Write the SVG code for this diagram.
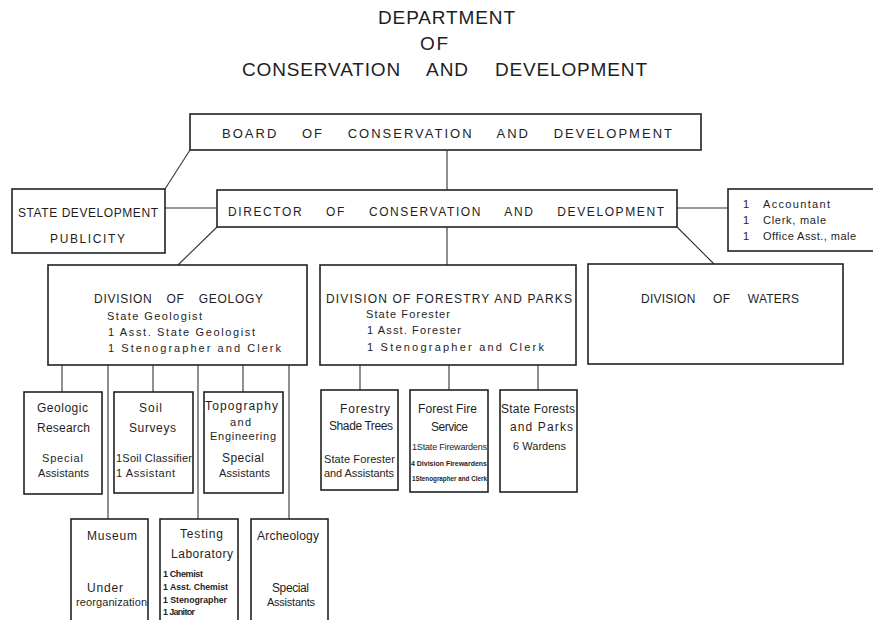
<svg xmlns="http://www.w3.org/2000/svg" width="873" height="620" viewBox="0 0 873 620">
<style>
  .bx{fill:#fff;stroke:#222;stroke-width:1.6}
  .cn{stroke:#333;stroke-width:1.1;fill:none}
  text{font-family:"Liberation Sans","DejaVu Sans",Arial,sans-serif;fill:#1e1e1e}
  .t1{font-size:19px}
  .h{font-size:13px}
  .hs{font-size:12px}
  .s{font-size:11px}
  .m{font-size:12px}
  .xs{font-size:9px}
  .xxs{font-size:7px;font-weight:bold}
  .c{text-anchor:middle}
</style>
<rect width="873" height="620" fill="#fff"/>
<g id="title">
  <text class="t1" x="378" y="24" textLength="137" lengthAdjust="spacing">DEPARTMENT</text>
  <text class="t1" x="420" y="50" textLength="28" lengthAdjust="spacing">OF</text>
  <text class="t1" x="242" y="76" textLength="405" lengthAdjust="spacing" style="word-spacing:20px">CONSERVATION AND DEVELOPMENT</text>
</g>
<g id="connectors">
  <line class="cn" x1="190" y1="150" x2="165" y2="189"/>
  <line class="cn" x1="447" y1="150" x2="447" y2="190"/>
  <line class="cn" x1="165" y1="208" x2="217" y2="208"/>
  <line class="cn" x1="677" y1="208" x2="728" y2="208"/>
  <line class="cn" x1="217" y1="227" x2="178" y2="265"/>
  <line class="cn" x1="447" y1="227" x2="447" y2="265"/>
  <line class="cn" x1="677" y1="227" x2="714" y2="264"/>
  <line class="cn" x1="62" y1="365" x2="62" y2="392"/>
  <line class="cn" x1="108" y1="365" x2="108" y2="519"/>
  <line class="cn" x1="153" y1="365" x2="153" y2="392"/>
  <line class="cn" x1="198" y1="365" x2="198" y2="519"/>
  <line class="cn" x1="243" y1="365" x2="243" y2="392"/>
  <line class="cn" x1="289" y1="365" x2="289" y2="519"/>
  <line class="cn" x1="360" y1="365" x2="360" y2="390"/>
  <line class="cn" x1="449" y1="365" x2="449" y2="390"/>
  <line class="cn" x1="538" y1="365" x2="538" y2="390"/>
</g>
<g id="board">
  <rect class="bx" x="190" y="114" width="511" height="36"/>
  <text class="h" x="222" y="138" textLength="450" lengthAdjust="spacing" style="word-spacing:18px">BOARD OF CONSERVATION AND DEVELOPMENT</text>
</g>
<g id="state-development">
  <rect class="bx" x="12" y="189" width="153" height="64"/>
  <text class="hs" x="18" y="217" textLength="140" lengthAdjust="spacing">STATE DEVELOPMENT</text>
  <text class="hs" x="50" y="243" textLength="75" lengthAdjust="spacing">PUBLICITY</text>
</g>
<g id="director">
  <rect class="bx" x="217" y="190" width="460" height="37"/>
  <text class="hs" x="228" y="216" textLength="436" lengthAdjust="spacing" style="word-spacing:18px">DIRECTOR OF CONSERVATION AND DEVELOPMENT</text>
</g>
<g id="staff">
  <rect class="bx" x="728" y="189" width="160" height="62"/>
  <text class="s" x="743" y="208">1</text><text class="s" x="763" y="208" textLength="67" lengthAdjust="spacing">Accountant</text>
  <text class="s" x="743" y="224">1</text><text class="s" x="763" y="224" textLength="63" lengthAdjust="spacing">Clerk, male</text>
  <text class="s" x="743" y="240">1</text><text class="s" x="763" y="240" textLength="93" lengthAdjust="spacing">Office Asst., male</text>
</g>
<g id="division-geology">
  <rect class="bx" x="48" y="265" width="259" height="100"/>
  <text class="hs" x="94" y="303" textLength="169" lengthAdjust="spacing" style="word-spacing:10px">DIVISION OF GEOLOGY</text>
  <text class="s" x="107" y="320" textLength="95" lengthAdjust="spacing">State Geologist</text>
  <text class="s" x="108" y="336" textLength="147" lengthAdjust="spacing">1 Asst. State Geologist</text>
  <text class="s" x="108" y="352" textLength="173" lengthAdjust="spacing">1 Stenographer and Clerk</text>
</g>
<g id="division-forestry">
  <rect class="bx" x="320" y="265" width="256" height="100"/>
  <text class="hs" x="326" y="303" textLength="246" lengthAdjust="spacing">DIVISION OF FORESTRY AND PARKS</text>
  <text class="s" x="366" y="318" textLength="84" lengthAdjust="spacing">State Forester</text>
  <text class="s" x="367" y="334" textLength="94" lengthAdjust="spacing">1 Asst. Forester</text>
  <text class="s" x="367" y="351" textLength="177" lengthAdjust="spacing">1 Stenographer and Clerk</text>
</g>
<g id="division-waters">
  <rect class="bx" x="588" y="264" width="255" height="100"/>
  <text class="hs" x="641" y="303" textLength="158" lengthAdjust="spacing" style="word-spacing:14px">DIVISION OF WATERS</text>
</g>
<g id="geologic-research">
  <rect class="bx" x="24" y="392" width="78" height="102"/>
  <text class="m" x="37" y="412" textLength="51" lengthAdjust="spacing">Geologic</text>
  <text class="m" x="37" y="432" textLength="53" lengthAdjust="spacing">Research</text>
  <text class="s" x="42" y="462" textLength="41" lengthAdjust="spacing">Special</text>
  <text class="s" x="38" y="477" textLength="51" lengthAdjust="spacing">Assistants</text>
</g>
<g id="soil-surveys">
  <rect class="bx" x="114" y="392" width="79" height="101"/>
  <text class="m" x="139" y="412" textLength="23" lengthAdjust="spacing">Soil</text>
  <text class="m" x="129" y="432" textLength="47" lengthAdjust="spacing">Surveys</text>
  <text class="s" x="116" y="462" textLength="76" lengthAdjust="spacing">1Soil Classifier</text>
  <text class="s" x="116" y="477" textLength="59" lengthAdjust="spacing">1 Assistant</text>
</g>
<g id="topography">
  <rect class="bx" x="204" y="392" width="79" height="101"/>
  <text class="m" x="205" y="410" textLength="73" lengthAdjust="spacing">Topography</text>
  <text class="s" x="230" y="426" textLength="21" lengthAdjust="spacing">and</text>
  <text class="s" x="210" y="440" textLength="66" lengthAdjust="spacing">Engineering</text>
  <text class="m" x="222" y="462" textLength="42" lengthAdjust="spacing">Special</text>
  <text class="s" x="219" y="477" textLength="51" lengthAdjust="spacing">Assistants</text>
</g>
<g id="forestry-shade-trees">
  <rect class="bx" x="321" y="390" width="77" height="100"/>
  <text class="m" x="340" y="413" textLength="50" lengthAdjust="spacing">Forestry</text>
  <text class="m" x="329" y="430" textLength="64" lengthAdjust="spacing">Shade Trees</text>
  <text class="s" x="324" y="463" textLength="71" lengthAdjust="spacing">State Forester</text>
  <text class="s" x="324" y="477" textLength="70" lengthAdjust="spacing">and Assistants</text>
</g>
<g id="forest-fire-service">
  <rect class="bx" x="410" y="390" width="78" height="102"/>
  <text class="m" x="418" y="413" textLength="59" lengthAdjust="spacing">Forest Fire</text>
  <text class="m" x="431" y="431" textLength="37" lengthAdjust="spacing">Service</text>
  <text class="xs" x="412" y="450" textLength="75" lengthAdjust="spacing">1State Firewardens</text>
  <text class="xxs" x="411" y="466" textLength="76" lengthAdjust="spacingAndGlyphs">4 Division Firewardens</text>
  <text class="xxs" x="412" y="481" textLength="75" lengthAdjust="spacingAndGlyphs">1Stenographer and Clerk</text>
</g>
<g id="state-forests-parks">
  <rect class="bx" x="500" y="390" width="77" height="102"/>
  <text class="m" x="501" y="413" textLength="74" lengthAdjust="spacing">State Forests</text>
  <text class="m" x="510" y="431" textLength="63" lengthAdjust="spacing">and Parks</text>
  <text class="s" x="513" y="450" textLength="53" lengthAdjust="spacing">6 Wardens</text>
</g>
<g id="museum">
  <rect class="bx" x="71" y="519" width="77" height="110"/>
  <text class="m" x="87" y="540" textLength="50" lengthAdjust="spacing">Museum</text>
  <text class="m" x="87" y="592" textLength="36" lengthAdjust="spacing">Under</text>
  <text class="s" x="76" y="606" textLength="71" lengthAdjust="spacing">reorganization</text>
</g>
<g id="testing-laboratory">
  <rect class="bx" x="160" y="519" width="78" height="110"/>
  <text class="m" x="180" y="538" textLength="43" lengthAdjust="spacing">Testing</text>
  <text class="m" x="171" y="558" textLength="62" lengthAdjust="spacing">Laboratory</text>
  <text class="xs" x="163" y="577" font-weight="bold" textLength="40" lengthAdjust="spacing">1 Chemist</text>
  <text class="xs" x="163" y="590" font-weight="bold" textLength="65" lengthAdjust="spacingAndGlyphs">1 Asst. Chemist</text>
  <text class="xs" x="163" y="603" font-weight="bold" textLength="64" lengthAdjust="spacingAndGlyphs">1 Stenographer</text>
  <text class="xs" x="163" y="615" font-weight="bold" textLength="32" lengthAdjust="spacing">1 Janitor</text>
</g>
<g id="archeology">
  <rect class="bx" x="251" y="519" width="77" height="110"/>
  <text class="m" x="257" y="540" textLength="62" lengthAdjust="spacing">Archeology</text>
  <text class="m" x="272" y="592" textLength="37" lengthAdjust="spacing">Special</text>
  <text class="s" x="267" y="606" textLength="48" lengthAdjust="spacing">Assistants</text>
</g>
</svg>
